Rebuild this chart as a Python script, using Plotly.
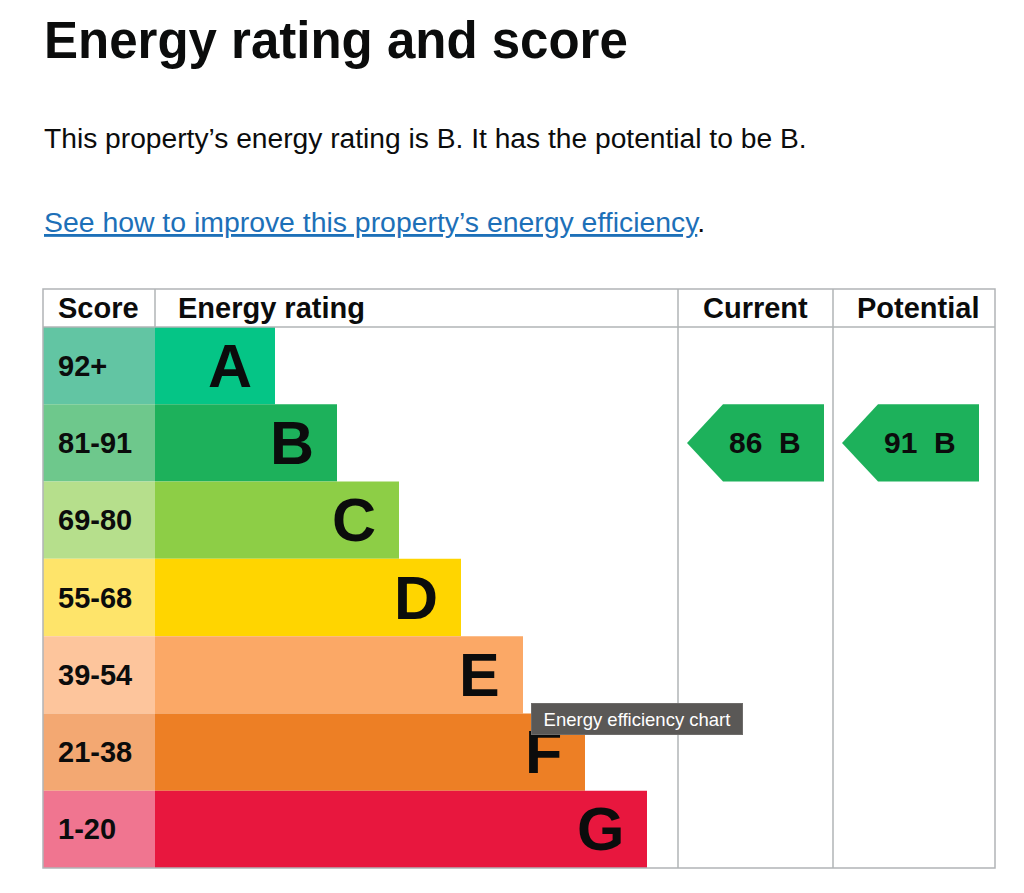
import plotly.graph_objects as go

# ---- data -------------------------------------------------------------
bands = ["A", "B", "C", "D", "E", "F", "G"]
score_ranges = ["92+", "81-91", "69-80", "55-68", "39-54", "21-38", "1-20"]
band_min_score = [92, 81, 69, 55, 39, 21, 1]
band_length = [120, 182, 244, 306, 368, 430, 492]   # bar length, px units on x
current_score = 86
potential_score = 91

# ---- styles -----------------------------------------------------------
bar_colors = ["#05c586", "#1db15b", "#8dce46", "#ffd500", "#fba866", "#ed7f25", "#e8173e"]
score_colors = ["#62c5a3", "#6ec88c", "#b6df8c", "#fee46a", "#fdc59c", "#f3a872", "#f07590"]
GRID = "#b1b4b6"
FONT = "Liberation Sans, Arial, sans-serif"

# the page body has an 8px margin, so the figure starts at (8, 8)
OFF = 8
W, H = 1024 - OFF, 893 - OFF

TABLE_X0, TABLE_X1 = 43, 995
SCORE_X1 = 155
CUR_X0, POT_X0 = 678, 833
TABLE_Y0, HEAD_Y1, TABLE_Y1 = 289, 327, 868


def py(y):
    # page pixel row -> paper fraction
    return 1 - (y - OFF) / H


def band_of(score):
    for b, lo in zip(bands, band_min_score):
        if score >= lo:
            return b
    return bands[-1]


fig = go.Figure()

# score column
fig.add_trace(go.Bar(
    y=bands, x=[SCORE_X1 - TABLE_X0] * len(bands), base=TABLE_X0,
    orientation="h", width=1, marker=dict(color=score_colors, line_width=0),
    hoverinfo="skip", showlegend=False))

# rating bars
fig.add_trace(go.Bar(
    y=bands, x=band_length, base=SCORE_X1,
    orientation="h", width=1, marker=dict(color=bar_colors, line_width=0),
    hoverinfo="skip", showlegend=False))

annotations = []
for b, rng, ln in zip(bands, score_ranges, band_length):
    annotations.append(dict(x=56, y=b, xref="x", yref="y", text="<b>" + rng + "</b>",
                            xanchor="left", yanchor="middle", showarrow=False,
                            font=dict(family=FONT, size=29, color="#0b0c0c")))
    annotations.append(dict(x=SCORE_X1 + ln - 21, y=b, xref="x", yref="y", text="<b>" + b + "</b>",
                            xanchor="right", yanchor="middle", showarrow=False,
                            font=dict(family=FONT, size=61, color="#0b0c0c")))

# current / potential arrows
for score, x0, x1 in [(current_score, CUR_X0 + 9, CUR_X0 + 146), (potential_score, POT_X0 + 9, POT_X0 + 146)]:
    b = band_of(score)
    i = bands.index(b)
    tip = 36
    fig.add_trace(go.Scatter(
        x=[x0, x0 + tip, x1, x1, x0 + tip, x0],
        y=[i, i - 0.5, i - 0.5, i + 0.5, i + 0.5, i],
        yaxis="y2", mode="lines", fill="toself", fillcolor=bar_colors[i],
        line=dict(width=0, color=bar_colors[i]), hoverinfo="skip", showlegend=False))
    annotations.append(dict(x=x1 - 59, y=b, xref="x", yref="y",
                            text="<b>%d\u00a0 %s</b>" % (score, b),
                            xanchor="center", yanchor="middle", showarrow=False,
                            font=dict(family=FONT, size=30, color="#0b0c0c")))

# header texts
head = dict(yref="paper", y=py(308), yanchor="middle", showarrow=False, xref="x",
            font=dict(family=FONT, size=29, color="#0b0c0c"))
annotations += [
    dict(head, x=56, text="<b>Score</b>", xanchor="left"),
    dict(head, x=176, text="<b>Energy rating</b>", xanchor="left"),
    dict(head, x=(CUR_X0 + POT_X0) / 2, text="<b>Current</b>", xanchor="center"),
    dict(head, x=(POT_X0 + TABLE_X1) / 2 + 4, text="<b>Potential</b>", xanchor="center"),
]

# page text above the chart
annotations += [
    dict(x=42, y=py(41), xref="x", yref="paper", xanchor="left", yanchor="middle", showarrow=False,
         text="<b>Energy rating and score</b>",
         font=dict(family=FONT, size=51, color="#0b0c0c")),
    dict(x=42, y=py(138), xref="x", yref="paper", xanchor="left", yanchor="middle", showarrow=False,
         text="This property’s energy rating is B. It has the potential to be B.",
         font=dict(family=FONT, size=28.2, color="#0b0c0c")),
    dict(x=42, y=py(222), xref="x", yref="paper", xanchor="left", yanchor="middle", showarrow=False,
         text='<span style="color:#1d70b8"><u>See how to improve this property’s energy efficiency</u></span>.',
         font=dict(family=FONT, size=28.4, color="#0b0c0c")),
    # browser tooltip captured in the screenshot
    dict(x=637, y=py(719), xref="x", yref="paper", xanchor="center", yanchor="middle", showarrow=False,
         text="Energy efficiency chart", bgcolor="#5a5856", bordercolor="#6e6c6a", borderwidth=1,
         borderpad=3, font=dict(family=FONT, size=18.5, color="#ffffff"),
         width=204, height=24),
]

# table grid
line = dict(color=GRID, width=1.5)
shapes = [
    dict(type="rect", xref="x", yref="paper", x0=TABLE_X0, x1=TABLE_X1, y0=py(TABLE_Y1), y1=py(TABLE_Y0),
         line=line, layer="above"),
    dict(type="line", xref="x", yref="paper", x0=TABLE_X0, x1=TABLE_X1, y0=py(HEAD_Y1), y1=py(HEAD_Y1),
         line=line, layer="above"),
    dict(type="line", xref="x", yref="paper", x0=SCORE_X1, x1=SCORE_X1, y0=py(HEAD_Y1), y1=py(TABLE_Y0),
         line=line, layer="above"),
    dict(type="line", xref="x", yref="paper", x0=CUR_X0, x1=CUR_X0, y0=py(TABLE_Y1), y1=py(TABLE_Y0),
         line=line, layer="above"),
    dict(type="line", xref="x", yref="paper", x0=POT_X0, x1=POT_X0, y0=py(TABLE_Y1), y1=py(TABLE_Y0),
         line=line, layer="above"),
]

body_domain = [py(TABLE_Y1), py(HEAD_Y1)]
fig.update_layout(
    width=W, height=H, margin=dict(l=0, r=0, t=0, b=0),
    paper_bgcolor="white", plot_bgcolor="white",
    barmode="overlay",
    xaxis=dict(range=[OFF, OFF + W], visible=False, fixedrange=True),
    yaxis=dict(type="category", categoryarray=bands, range=[6.5, -0.5], domain=body_domain,
               visible=False, fixedrange=True),
    yaxis2=dict(type="linear", range=[6.5, -0.5], domain=body_domain, overlaying="y",
                visible=False, fixedrange=True),
    annotations=annotations, shapes=shapes,
)

fig.write_html("out.html")
